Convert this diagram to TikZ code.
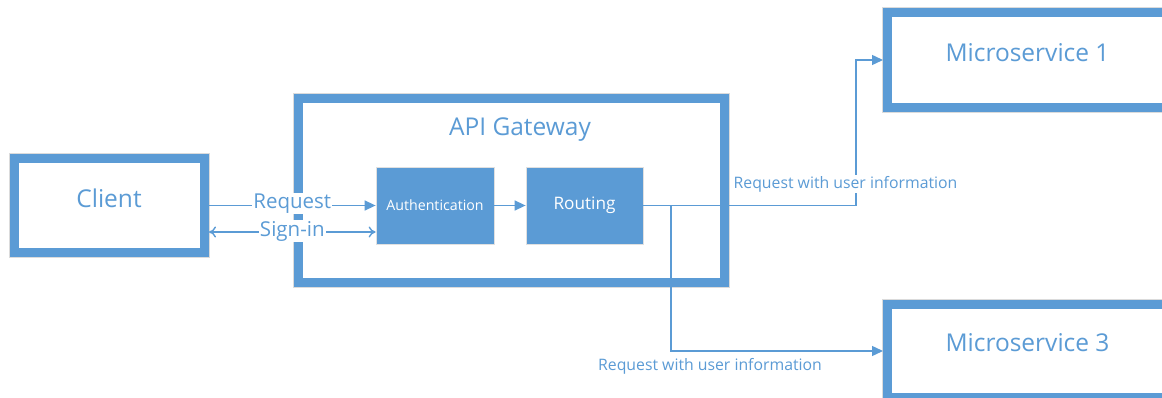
\documentclass[tikz,border=0pt]{standalone}
\usepackage{fontspec}
\setmainfont{Open Sans}
\usetikzlibrary{arrows.meta,calc}
\definecolor{msblue}{RGB}{91,155,213}
\tikzset{
  x=1pt,y=-1pt,
  frame/.style={draw=msblue,line width=9pt,fill=white,inner sep=0pt,
    preaction={draw=black!14,line width=11pt}},
  solid box/.style={fill=msblue,draw=black!12,line width=0.8pt,inner sep=0pt,text=white},
  conn/.style={draw=msblue,line width=1.4pt},
  tri/.style={-{Triangle[length=11pt,width=10pt]}},
  lbl/.style={text=msblue,inner sep=1pt},
  whitelbl/.style={lbl,fill=white},
  big/.style={font=\fontsize{24.5}{28}\selectfont},
  small/.style={font=\fontsize{15.8}{18}\selectfont},
}
\begin{document}
\begin{tikzpicture}
\clip (0,0) rectangle (1162,398);
\fill[white] (0,0) rectangle (1162,398);
% boxes
\node[frame,minimum width=190pt,minimum height=94pt] (client) at (109.5,205.5) {};
\node[lbl,big] (clientt) at (109,198) {Client};
\node[frame,minimum width=426pt,minimum height=184pt] (gw) at (511.5,190.5) {};
\node[lbl,big] (gwt) at (520,130) {API Gateway};
\node[solid box,minimum width=118pt,minimum height=77pt,font=\fontsize{14.2}{16}\selectfont] (auth) at (435,205.5) {Authentication};
\node[solid box,minimum width=117pt,minimum height=77pt,font=\fontsize{17.2}{20}\selectfont] (rout) at (584.5,205.5) {Routing};
\node[frame,minimum width=300pt,minimum height=95pt] (ms1) at (1037.5,60) {};
\node[lbl,big] (ms1t) at (1027.5,53) {Microservice 1};
\node[frame,minimum width=300pt,minimum height=93pt] (ms3) at (1037.5,351) {};
\node[lbl,big] (ms3t) at (1027.5,343) {Microservice 3};
% connectors
\draw[conn,tri] (client.east) -- node[whitelbl,font=\fontsize{20.5}{22}\selectfont,yshift=2pt]{Request} (auth.west);
\draw[conn,{To[length=7pt,width=11pt]}-{To[length=7pt,width=11pt]}] ([yshift=-26.5pt]client.east) -- node[whitelbl,font=\fontsize{20.5}{22}\selectfont,yshift=1pt]{Sign-in} ([yshift=-26.5pt]auth.west);
\draw[conn,tri] (auth.east) -- (rout.west);
\coordinate (turn) at (856,205.5);
\coordinate (br) at (671,205.5);
\draw[conn,tri] (rout.east) -- (turn) |- (ms1.west);
\node[whitelbl,small] (l1) at (845.5,184) {Request with user information};
\draw[conn,tri] (br) |- (ms3.west);
\node[lbl,small] (l3) at (710,366) {Request with user information};
\end{tikzpicture}
\end{document}
